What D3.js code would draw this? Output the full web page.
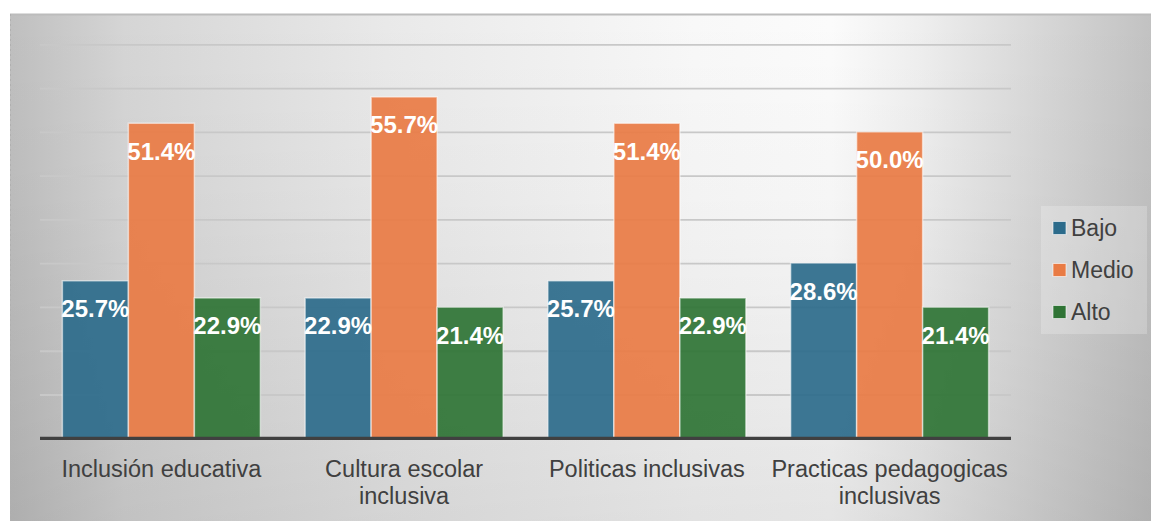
<!DOCTYPE html>
<html>
<head>
<meta charset="utf-8">
<script src="https://cdn.jsdelivr.net/npm/d3@7"></script>
<style>
  html, body { margin: 0; padding: 0; background: #ffffff; }
  svg { display: block; font-family: "Liberation Sans", Arial, sans-serif; }
</style>
</head>
<body>
<svg id="chart" width="1151" height="521"></svg>
<script>
// ---- data ----
const categories = [
  ["Inclusión educativa"],
  ["Cultura escolar", "inclusiva"],
  ["Politicas inclusivas"],
  ["Practicas pedagogicas", "inclusivas"]
];
const seriesNames = ["Bajo", "Medio", "Alto"];
const bajo  = [25.7, 22.9, 25.7, 28.6];
const medio = [51.4, 55.7, 51.4, 50.0];
const alto  = [22.9, 21.4, 22.9, 21.4];
const seriesColors = ["#2c6b8b", "#e97b44", "#2f7435"];
// gridlines every 5 respondents out of 70 (percent axis)
const sampleSize = 70;
const gridCounts = [0, 5, 10, 15, 20, 25, 30, 35, 40, 45];

const seriesValues = [bajo, medio, alto];
const catKeys = categories.map(c => c.join(" "));

const svg = d3.select("#chart");
const W = 1151, H = 521;

// ---- background ----
const defs = svg.append("defs");
const bg = defs.append("linearGradient").attr("id", "bgH")
  .attr("x1", 0).attr("y1", 0).attr("x2", 1).attr("y2", 0);
[[0, "#bfbfbf"], [0.1, "#d5d5d5"], [0.33, "#e9e9e9"], [0.6, "#f8f8f8"], [0.72, "#fbfbfb"],
 [0.8, "#eeeeee"], [0.88, "#dcdcdc"], [1, "#c2c2c2"]]
  .forEach(([o, c]) => bg.append("stop").attr("offset", o).attr("stop-color", c));
const bgV = defs.append("linearGradient").attr("id", "bgV")
  .attr("x1", 0).attr("y1", 0).attr("x2", 0).attr("y2", 1);
bgV.append("stop").attr("offset", 0).attr("stop-color", "#000").attr("stop-opacity", 0);
bgV.append("stop").attr("offset", 0.35).attr("stop-color", "#000").attr("stop-opacity", 0.02);
bgV.append("stop").attr("offset", 1).attr("stop-color", "#000").attr("stop-opacity", 0.09);

svg.append("rect").attr("x", 10).attr("y", 14).attr("width", W - 10).attr("height", H - 14)
  .attr("fill", "url(#bgH)");
svg.append("rect").attr("x", 10).attr("y", 14).attr("width", W - 10).attr("height", H - 14)
  .attr("fill", "url(#bgV)");
svg.append("line").attr("x1", 10).attr("x2", W).attr("y1", 14.5).attr("y2", 14.5)
  .attr("stroke", "#bcbcbc").attr("stroke-width", 2);
svg.append("line").attr("x1", 10.5).attr("x2", 10.5).attr("y1", 14).attr("y2", H)
  .attr("stroke", "#b0b0b0").attr("stroke-width", 1).attr("stroke-dasharray", "2,3");

// ---- scales ----
const plotLeft = 40, plotRight = 1011, baseY = 438.3, topY = 44.3;
const x0 = d3.scaleBand().domain(catKeys).range([plotLeft, plotRight])
  .paddingInner(0.1844).paddingOuter(0.0922);
const x1 = d3.scaleBand().domain(seriesNames).range([0, x0.bandwidth()]).padding(0);
const y = d3.scaleLinear().domain([0, 45 / sampleSize * 100]).range([baseY, topY]);

// ---- gridlines ----
const gg = defs.append("linearGradient").attr("id", "gridG")
  .attr("gradientUnits", "userSpaceOnUse")
  .attr("x1", 0).attr("y1", topY).attr("x2", 0).attr("y2", baseY);
gg.append("stop").attr("offset", 0).attr("stop-color", "#c8c8c8");
gg.append("stop").attr("offset", 1).attr("stop-color", "#6a6a6a");

const yAxis = d3.axisLeft(y)
  .tickValues(gridCounts.slice(1).map(c => c / sampleSize * 100))
  .tickSize(-(plotRight - plotLeft)).tickFormat("");
const ga = svg.append("g").attr("transform", `translate(${plotLeft},0)`).call(yAxis);
ga.select(".domain").remove();
ga.selectAll(".tick line").attr("stroke", "url(#gridG)").attr("stroke-width", 1.8);

// ---- bars ----
const groups = svg.append("g").selectAll("g").data(catKeys).join("g")
  .attr("transform", d => `translate(${x0(d)},0)`);

groups.selectAll("rect")
  .data((d, i) => seriesNames.map((s, j) => ({ s, j, v: seriesValues[j][i] })))
  .join("rect")
  .attr("x", d => x1(d.s))
  .attr("y", d => y(d.v))
  .attr("width", x1.bandwidth())
  .attr("height", d => baseY - y(d.v))
  .attr("fill", d => seriesColors[d.j])
  .attr("fill-opacity", 0.92)
  .attr("stroke", "#ffffff").attr("stroke-opacity", 0.55).attr("stroke-width", 1.5);

groups.selectAll("text.val")
  .data((d, i) => seriesNames.map((s, j) => ({ s, j, v: seriesValues[j][i] })))
  .join("text").attr("class", "val")
  .attr("x", d => x1(d.s) + x1.bandwidth() / 2)
  .attr("y", d => y(d.v) + 36.5)
  .attr("text-anchor", "middle")
  .attr("fill", "#ffffff")
  .attr("font-weight", "bold")
  .attr("font-size", "24px")
  .text(d => d.v.toFixed(1) + "%");

// ---- baseline ----
svg.append("line").attr("x1", plotLeft).attr("x2", plotRight).attr("y1", baseY).attr("y2", baseY)
  .attr("stroke", "#404040").attr("stroke-width", 3.2);

// ---- category labels ----
const xAxis = d3.axisBottom(x0).tickSize(0).tickFormat("");
const gx = svg.append("g").attr("transform", `translate(0,${baseY})`).call(xAxis);
gx.select(".domain").remove();
gx.selectAll(".tick").each(function (d, i) {
  const t = d3.select(this).append("text")
    .attr("text-anchor", "middle").attr("fill", "#404040").attr("font-size", "23.5px");
  categories[i].forEach((line, k) => {
    t.append("tspan").attr("x", 0).attr("y", 39 + k * 27).text(line);
  });
});

// ---- legend ----
const leg = svg.append("g");
leg.append("rect").attr("x", 1041).attr("y", 206).attr("width", 106).attr("height", 128)
  .attr("fill", "#ffffff").attr("fill-opacity", 0.22);
const rows = [228, 270, 312];
seriesNames.forEach((s, j) => {
  leg.append("rect").attr("x", 1053).attr("y", rows[j] - 6.5).attr("width", 13).attr("height", 13)
    .attr("fill", seriesColors[j]).attr("stroke", "#ffffff").attr("stroke-opacity", 0.6).attr("stroke-width", 1);
  leg.append("text").attr("x", 1071).attr("y", rows[j] + 8.3)
    .attr("fill", "#404040").attr("font-size", "23px").text(s);
});
</script>
</body>
</html>
